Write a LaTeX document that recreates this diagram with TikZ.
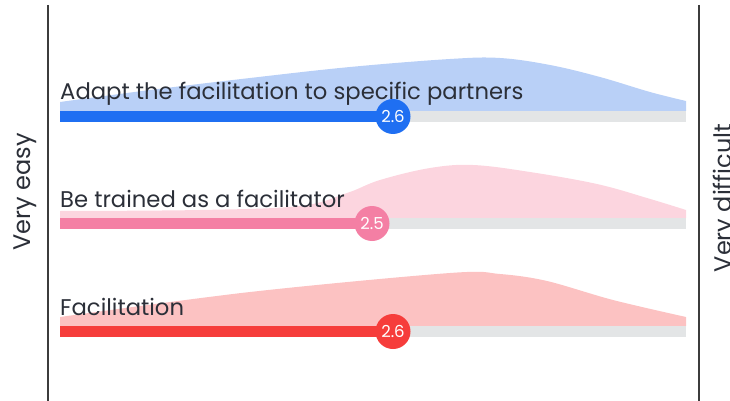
\documentclass[tikz,border=0pt]{standalone}
\usepackage{fontspec}
\setmainfont{Poppins}
\definecolor{bblue}{HTML}{1F6FF2}
\definecolor{lblue}{HTML}{B9D0F7}
\definecolor{bpink}{HTML}{F47FA4}
\definecolor{lpink}{HTML}{FCD5DF}
\definecolor{bred}{HTML}{F63D3B}
\definecolor{lred}{HTML}{FCC2C2}
\definecolor{track}{HTML}{E3E5E6}
\definecolor{axisc}{HTML}{3C3C3C}
\definecolor{txt}{HTML}{2B2F38}
\tikzset{
  lbl/.style={anchor=base west, inner sep=0pt, text=txt, font=\fontsize{22.7}{26}\selectfont},
  axlbl/.style={rotate=90, inner sep=0pt, text=txt, font=\fontsize{24}{28}\selectfont},
  valdot/.style={circle, minimum size=35pt, inner sep=0pt, text=white, font=\fontsize{16.5}{19}\selectfont},
  axisline/.style={draw=axisc, line width=2pt}
}
\begin{document}
\begin{tikzpicture}[x=1pt,y=-1pt]
\useasboundingbox (0,0) rectangle (730,401);
\clip (0,0) rectangle (730,401);
% axes
\coordinate (la0) at (48,5); \coordinate (la1) at (48,401);
\coordinate (ra0) at (699,5); \coordinate (ra1) at (699,401);
\draw[axisline] (la0) -- (la1);
\draw[axisline] (ra0) -- (ra1);
\node[axlbl] (easy) at (25,192) {Very easy};
\node[axlbl] (diff) at (725,198) {Very difficult};
% row 1
\fill[lblue] (60,111) -- plot[smooth, tension=0.6] coordinates {(60,102) (150,90) (250,78) (350,67) (450,59) (500,58) (550,65) (600,77) (650,92) (686,101)} -- (686,111) -- cycle;
\fill[track] (60,111) rectangle (686,122);
\fill[bblue] (60,111) rectangle (393,122);
\node[lbl] (t1) at (60,100) {Adapt the facilitation to specific partners};
\node[valdot, fill=bblue] (v1) at (393,116.5) {2.6};
% row 2
\fill[lpink] (60,218) -- plot[smooth, tension=0.6] coordinates {(60,211) (200,210) (300,206) (347,193) (380,180) (430,168) (473,165) (530,172) (597,184) (647,198) (686,210)} -- (686,218) -- cycle;
\fill[track] (60,218) rectangle (686,229);
\fill[bpink] (60,218) rectangle (372,229);
\node[lbl] (t2) at (60,207) {Be trained as a facilitator};
\node[valdot, fill=bpink] (v2) at (372,223.5) {2.5};
% row 3
\fill[lred] (60,326) -- plot[smooth, tension=0.55] coordinates {(60,317) (250,292) (450,273) (500,274) (547,281) (613,300) (686,317)} -- (686,326) -- cycle;
\fill[track] (60,326) rectangle (686,337);
\fill[bred] (60,326) rectangle (393,337);
\node[lbl] (t3) at (60,315) {Facilitation};
\node[valdot, fill=bred] (v3) at (393,331.5) {2.6};
\end{tikzpicture}
\end{document}
